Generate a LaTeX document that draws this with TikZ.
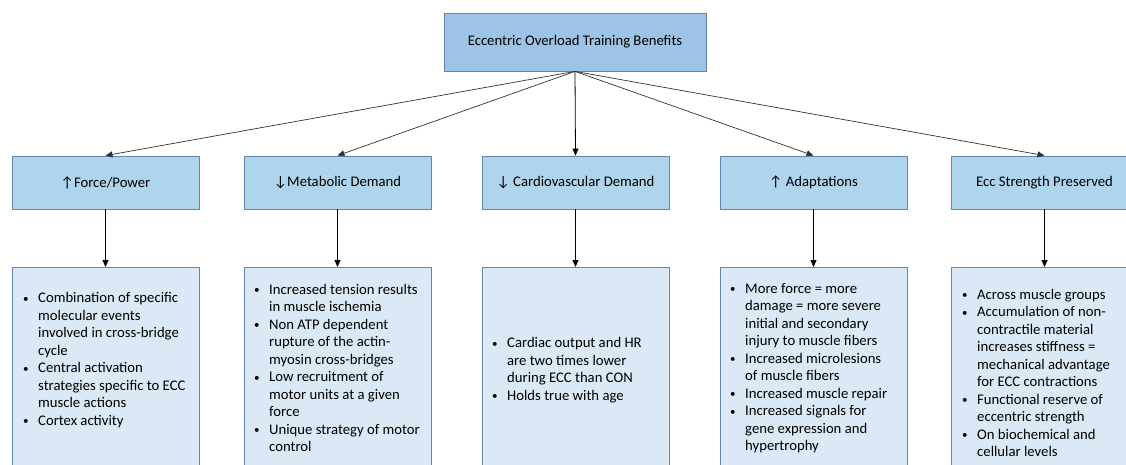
\documentclass[tikz,border=0pt]{standalone}
\usepackage{fontspec}
\setmainfont{Carlito}
\usetikzlibrary{arrows.meta}
\definecolor{topfill}{RGB}{157,195,230}
\definecolor{midfill}{RGB}{174,213,236}
\definecolor{lowfill}{RGB}{219,232,245}
\definecolor{boxline}{RGB}{100,135,175}
\newcommand{\bul}{\makebox[15pt][l]{\raisebox{0.5pt}{\scalebox{0.75}{\textbullet}}}}
\newcommand{\cont}{\hspace*{15pt}}
\begin{document}
\begin{tikzpicture}[x=1pt,y=-1pt,
  every node/.style={font=\fontsize{14.7}{17.5}\selectfont},
  topbox/.style={draw=boxline,line width=0.8pt,fill=topfill,minimum width=262pt,minimum height=58pt,inner sep=0pt},
  midbox/.style={draw=boxline,line width=0.8pt,fill=midfill,minimum width=187pt,minimum height=53pt,inner sep=0pt},
  lowbox/.style={draw=boxline,line width=0.8pt,fill=lowfill,minimum width=187pt,minimum height=230pt,inner sep=0pt,anchor=north},
  txt/.style={anchor=west,align=left,inner sep=0pt},
  arr/.style={-{Triangle[width=6pt,length=7pt]},line width=0.8pt,black},
  darr/.style={-{Triangle[width=6pt,length=7pt]},line width=0.7pt,black!80}]
\clip (0,0) rectangle (1126,465);
\fill[white] (0,0) rectangle (1126,465);
\node[topbox] (top) at (575,42) {Eccentric Overload Training Benefits};
\node[midbox] (m1) at (105.5,182.5) {↑Force/Power};
\node[midbox] (m2) at (337.5,182.5) {↓Metabolic Demand};
\node[midbox] (m3) at (575.5,182.5) {↓ Cardiovascular Demand};
\node[midbox] (m4) at (813.5,182.5) {↑ Adaptations};
\node[midbox] (m5) at (1044.5,182.5) {Ecc Strength Preserved};
\node[lowbox] (b1) at (105.5,267) {};
\node[lowbox] (b2) at (337.5,267) {};
\node[lowbox] (b3) at (575.5,267) {};
\node[lowbox] (b4) at (813.5,267) {};
\node[lowbox] (b5) at (1044.5,267) {};
\node[txt] (t1) at (23,360) {\bul Combination of specific\\ \cont molecular events\\ \cont involved in cross-bridge\\ \cont cycle\\ \bul Central activation\\ \cont strategies specific to ECC\\ \cont muscle actions\\ \bul Cortex activity};
\node[txt] (t2) at (254,368) {\bul Increased tension results\\ \cont in muscle ischemia\\ \bul Non ATP dependent\\ \cont rupture of the actin-\\ \cont myosin cross-bridges\\ \bul Low recruitment of\\ \cont motor units at a given\\ \cont force\\ \bul Unique strategy of motor\\ \cont control};
\node[txt] (t3) at (492,370) {\bul Cardiac output and HR\\ \cont are two times lower\\ \cont during ECC than CON\\ \bul Holds true with age};
\node[txt] (t4) at (730,368) {\bul More force = more\\ \cont damage = more severe\\ \cont initial and secondary\\ \cont injury to muscle fibers\\ \bul Increased microlesions\\ \cont of muscle fibers\\ \bul Increased muscle repair\\ \bul Increased signals for\\ \cont gene expression and\\ \cont hypertrophy};
\node[txt] (t5) at (962,373) {\bul Across muscle groups\\ \bul Accumulation of non-\\ \cont contractile material\\ \cont increases stiffness =\\ \cont mechanical advantage\\ \cont for ECC contractions\\ \bul Functional reserve of\\ \cont eccentric strength\\ \bul On biochemical and\\ \cont cellular levels};
\foreach \i in {1,2,4,5}{
  \draw[darr] (top.south) -- (m\i.north);
}
\draw[arr] (top.south) -- (m3.north);
\foreach \i in {1,...,5}{
  \draw[arr] (m\i.south) -- (b\i.north);
}
\end{tikzpicture}
\end{document}
